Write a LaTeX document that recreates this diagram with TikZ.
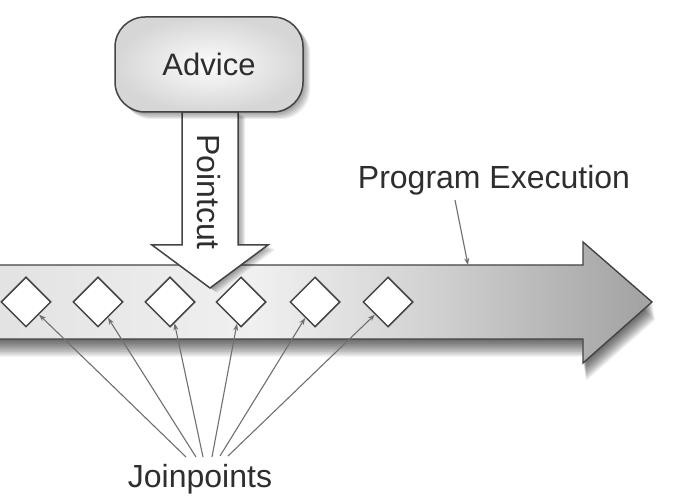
\documentclass[tikz,border=0pt]{standalone}
\usepackage{fontspec}
\setmainfont{Liberation Sans}
\usetikzlibrary{shapes.geometric,arrows.meta}
\definecolor{txt}{HTML}{2E2E2E}
\definecolor{edge}{HTML}{444444}
\definecolor{bandA}{HTML}{E2E2E2}
\definecolor{bandB}{HTML}{F0F0F0}
\definecolor{bandC}{HTML}{D2D2D2}
\definecolor{bandD}{HTML}{A4A4A4}
\definecolor{leadc}{HTML}{707070}
\pgfdeclarehorizontalshading{bandshade}{100bp}{color(0bp)=(bandA); color(25bp)=(bandA); color(45bp)=(bandB); color(58bp)=(bandC); color(74bp)=(bandD); color(100bp)=(bandD)}
\newcommand\bandshape[1]{\path[#1] (-10,265) -- (583,265) -- (583,242) -- (652,302) -- (583,363) -- (583,339) -- (-10,339) -- cycle;}
\newcommand\pointcutshape[1]{\path[#1] (182,112) -- (182,245) -- (152,245) -- (210,288) -- (268,245) -- (238,245) -- (238,112) -- cycle;}
\begin{document}
\begin{tikzpicture}[x=1pt,y=-1pt,
  lbl/.style={font=\fontsize{32}{38}\selectfont, text=txt, inner sep=0pt},
  jp/.style={shape=diamond, draw=edge, line width=1.5pt, fill=white, minimum width=50pt, minimum height=50pt, inner sep=0pt},
  lead/.style={draw=leadc, line width=1.1pt, -{Stealth[length=7pt,width=5pt]}},
  outline/.style={draw=edge, line width=1.4pt, line join=miter},
  shadowfill/.style={fill=black, fill opacity=0.07, draw=none},
  advicebox/.style={draw=edge, line width=1.5pt, rounded corners=30pt, minimum width=188pt, minimum height=95pt, inner color=white!98!gray, outer color=gray!32, font=\fontsize{31}{36}\selectfont, text=txt}
]
\useasboundingbox (0,0) rectangle (675,502);
\fill[white] (0,0) rectangle (675,502);

% band shadow, band
\foreach \d in {1,...,11} {\bandshape{shadowfill, shift={({\d*0.3},{\d*1.6})}}}
\bandshape{shading=bandshade}
\bandshape{outline}

% pointcut arrow
\foreach \d in {1,...,6} {\pointcutshape{shadowfill, shift={({\d*1.2},{\d*0.8})}}}
\pointcutshape{fill=white}
\pointcutshape{outline, line width=1.5pt}
\node[lbl, rotate=-90] (pc) at (209,192) {Pointcut};

% advice box
\foreach \d in {1,...,6} {\fill[shadowfill, rounded corners=30pt] ({115+\d*1.2},{17+\d*1.2}) rectangle ({303+\d*1.2},{112+\d*1.2});}
\node[advicebox] (advice) at (209,64.5) {Advice};

% joinpoints
\node[jp] (d1) at (26,302) {};
\node[jp] (d2) at (98,302) {};
\node[jp] (d3) at (170,302) {};
\node[jp] (d4) at (241,302) {};
\node[jp] (d5) at (315,302) {};
\node[jp] (d6) at (388,302) {};

% labels
\node[lbl, anchor=base] (pe) at (494,189) {Program Execution};
\coordinate (pes) at (455,200);
\coordinate (pet) at (468,265);
\draw[lead] (pes) -- (pet);

\node[lbl, anchor=base] (jpl) at (200,488) {Joinpoints};
\coordinate (s1) at (186,457);
\coordinate (s2) at (196,457);
\coordinate (s3) at (203,457);
\coordinate (s4) at (212,457);
\coordinate (s5) at (220,456);
\coordinate (s6) at (228,456);
\draw[lead] (s1) -- (d1);
\draw[lead] (s2) -- (d2);
\draw[lead] (s3) -- (d3);
\draw[lead] (s4) -- (d4);
\draw[lead] (s5) -- (d5);
\draw[lead] (s6) -- (d6);
\end{tikzpicture}
\end{document}
